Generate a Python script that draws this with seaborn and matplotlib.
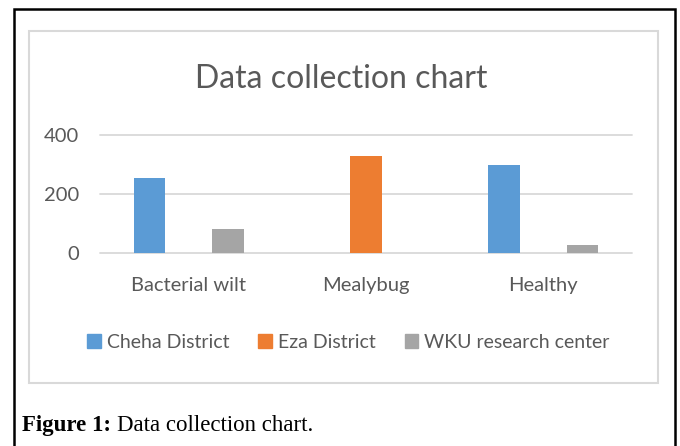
import numpy as np
import pandas as pd
import matplotlib
matplotlib.use("Agg")
import matplotlib.pyplot as plt
import seaborn as sns
from matplotlib.patches import Rectangle

categories = ["Bacterial wilt", "Mealybug", "Healthy"]
series = ["Cheha District", "Eza District", "WKU research center"]
cheha = [254, 0, 300]
eza = [0, 329, 0]
wku = [81, 0, 27]
yticks = [0, 200, 400]
colors = ["#5B9BD5", "#ED7D31", "#A5A5A5"]

sns.set_theme(style="white")
plt.rcParams["font.family"] = ["Lato", "DejaVu Sans"]

W, H = 680, 446
fig = plt.figure(figsize=(6.8, 4.46), dpi=100)
fig.patch.set_facecolor("white")


def fx(px):
    return px / W


def fy(py):
    return 1 - py / H


ax = fig.add_axes([fx(100), fy(253), fx(632) - fx(100), fy(135) - fy(253)])

df = pd.DataFrame({
    "category": categories * 3,
    "series": np.repeat(series, 3),
    "value": cheha + eza + wku,
})
sns.barplot(data=df, x="category", y="value", hue="series", hue_order=series,
            order=categories, palette=colors, width=0.665, gap=0.21,
            linewidth=0, legend=False, ax=ax, errorbar=None, saturation=1)

ax.set_xlim(-0.5, 2.5)
ax.set_ylim(0, 400)
ax.set_yticks(yticks)
ax.yaxis.grid(True, color="#D9D9D9", lw=1.3)
ax.set_axisbelow(True)
for s in ax.spines.values():
    s.set_visible(False)
for gl in ax.get_ygridlines():
    gl.set_clip_on(False)
ax.tick_params(axis="y", length=0, pad=15, labelsize=14.5, labelcolor="#595959")
ax.tick_params(axis="x", length=0, pad=17, labelsize=14.5, labelcolor="#595959")
ax.set_xlabel("")
ax.set_ylabel("")

fig.text(fx(341.5), fy(87.7), "Data collection chart", ha="center", va="baseline",
         fontsize=23, color="#595959")

handles = [Rectangle((0, 0), 1, 1, color=c) for c in colors]
fig.legend(handles, series, loc="center", bbox_to_anchor=(fx(348.5), fy(342)),
           ncol=3, frameon=False, fontsize=14, handlelength=0.7, handleheight=0.7,
           handletextpad=0.3, columnspacing=1.5, labelcolor="#595959")

fig.patches.append(Rectangle((fx(29), fy(383)), fx(658) - fx(29), fy(31) - fy(383),
                             transform=fig.transFigure, fill=False, ec="#D9D9D9", lw=1.5))
fig.patches.append(Rectangle((fx(14), fy(450)), fx(675) - fx(14), fy(9) - fy(450),
                             transform=fig.transFigure, fill=False, ec="black", lw=1.8,
                             clip_on=False))

t1 = fig.text(fx(22), fy(431), "Figure 1:", family=["Liberation Serif"], weight="bold",
              fontsize=16.5, va="baseline", color="black")
fig.canvas.draw()
bb = t1.get_window_extent()
fig.text(bb.x1 / W + fx(6), fy(431), "Data collection chart.", family=["Liberation Serif"],
         fontsize=16.5, va="baseline", color="black")

fig.savefig("out.png", dpi=100)
